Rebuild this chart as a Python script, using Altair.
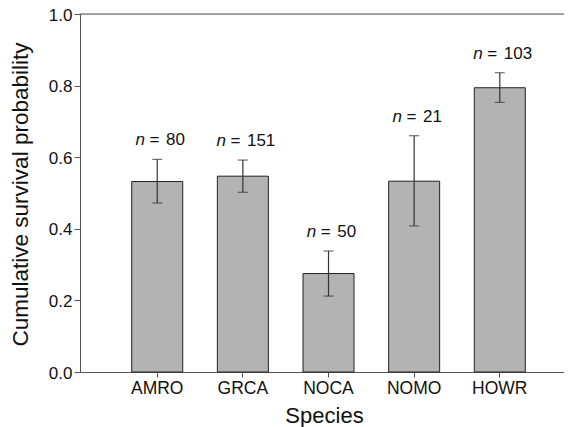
import altair as alt
import pandas as pd

# ---- data ----
species = ["AMRO", "GRCA", "NOCA", "NOMO", "HOWR"]
survival = [0.532, 0.547, 0.275, 0.533, 0.794]
err_low = [0.472, 0.502, 0.212, 0.408, 0.753]
err_high = [0.594, 0.592, 0.338, 0.660, 0.836]
n_obs = [80, 151, 50, 21, 103]
y_ticks = [0.0, 0.2, 0.4, 0.6, 0.8, 1.0]

df = pd.DataFrame({
    "species": species,
    "survival": survival,
    "low": err_low,
    "high": err_high,
    "n": n_obs,
})

FONT = "Liberation Sans"
W, H = 484, 358
AXC = "#555555"
YTITLE = "Cumulative survival probability"

P_IN, P_OUT, ALIGN = 0.4046, 0.528, 0.572
step = W / (len(species) - P_IN + 2 * P_OUT)
half_band = step * (1 - P_IN) / 2

xscale = alt.Scale(domain=species, paddingInner=P_IN, paddingOuter=P_OUT, align=ALIGN)
xaxis = alt.Axis(
    title="Species", titleFont=FONT, titleFontSize=22, titleFontWeight="normal",
    titleColor="#111111", titleX=244, titleY=50, titleBaseline="alphabetic",
    labelFont=FONT, labelFontSize=17.5, labelColor="#111111", labelAngle=0,
    labelPadding=2, tickSize=5, tickColor=AXC, domainColor=AXC, grid=False,
)
yaxis = alt.Axis(
    title=YTITLE, values=y_ticks, format=".1f",
    titleFont=FONT, titleFontSize=22.5, titleFontWeight="normal", titleColor="#111111",
    titleX=-48, titleY=180, titleBaseline="bottom",
    labelFont=FONT, labelFontSize=17, labelColor="#111111", labelPadding=2,
    labelOffset=1, tickSize=6, tickColor=AXC, domainColor=AXC, grid=False,
)
yscale = alt.Scale(domain=[0, 1], nice=False, zero=True)

X = alt.X("species:N", scale=xscale, sort=species, axis=xaxis)


def Y(field):
    return alt.Y(f"{field}:Q", scale=yscale, axis=yaxis, title=YTITLE)


base = alt.Chart(df)

bars = base.mark_bar(fill="#b3b3b3", stroke="#222222", strokeWidth=1).encode(
    x=X, y=Y("survival")
)
err = base.mark_rule(color="#333333", strokeWidth=1.2).encode(
    x=X, y=Y("low"), y2="high:Q"
)
cap_hi = base.mark_tick(color="#333333", thickness=1.2, size=10).encode(x=X, y=Y("high"))
cap_lo = base.mark_tick(color="#333333", thickness=1.2, size=10).encode(x=X, y=Y("low"))

# label "n = 80": italic n, "=" and the count, laid out side by side and centred
labels = base.transform_calculate(
    cnt="toString(datum.n)",
).transform_calculate(
    w="30.5 + 9.45 * length(datum.cnt)",
).transform_calculate(
    off_n=f"{half_band} - datum.w / 2 + 3",
).transform_calculate(
    off_eq="datum.off_n + 14",
    off_cnt="datum.off_n + 30.5",
)

txt = dict(font=FONT, fontSize=17, align="left", baseline="alphabetic", dy=-14, color="#111111")

lab_n = labels.mark_text(fontStyle="italic", **txt).encode(
    x=X, xOffset=alt.XOffset("off_n:Q", scale=None), y=Y("high"), text=alt.value("n")
)
lab_eq = labels.mark_text(**txt).encode(
    x=X, xOffset=alt.XOffset("off_eq:Q", scale=None), y=Y("high"), text=alt.value("=")
)
lab_cnt = labels.mark_text(**txt).encode(
    x=X, xOffset=alt.XOffset("off_cnt:Q", scale=None), y=Y("high"), text="cnt:N"
)

top = alt.Chart(pd.DataFrame({"a": [0]})).mark_rule(color=AXC, strokeWidth=1).encode(
    x=alt.value(0), x2=alt.value(W), y=alt.value(0)
)

chart = alt.layer(bars, err, cap_hi, cap_lo, lab_n, lab_eq, lab_cnt, top).properties(
    width=W, height=H,
    autosize=alt.AutoSizeParams(type="none"),
    padding={"left": 72, "top": 6, "right": 0, "bottom": 57},
).configure_view(stroke=None).configure(background="white")

chart.save("out.html", embed_options={"renderer": "svg", "actions": False})
